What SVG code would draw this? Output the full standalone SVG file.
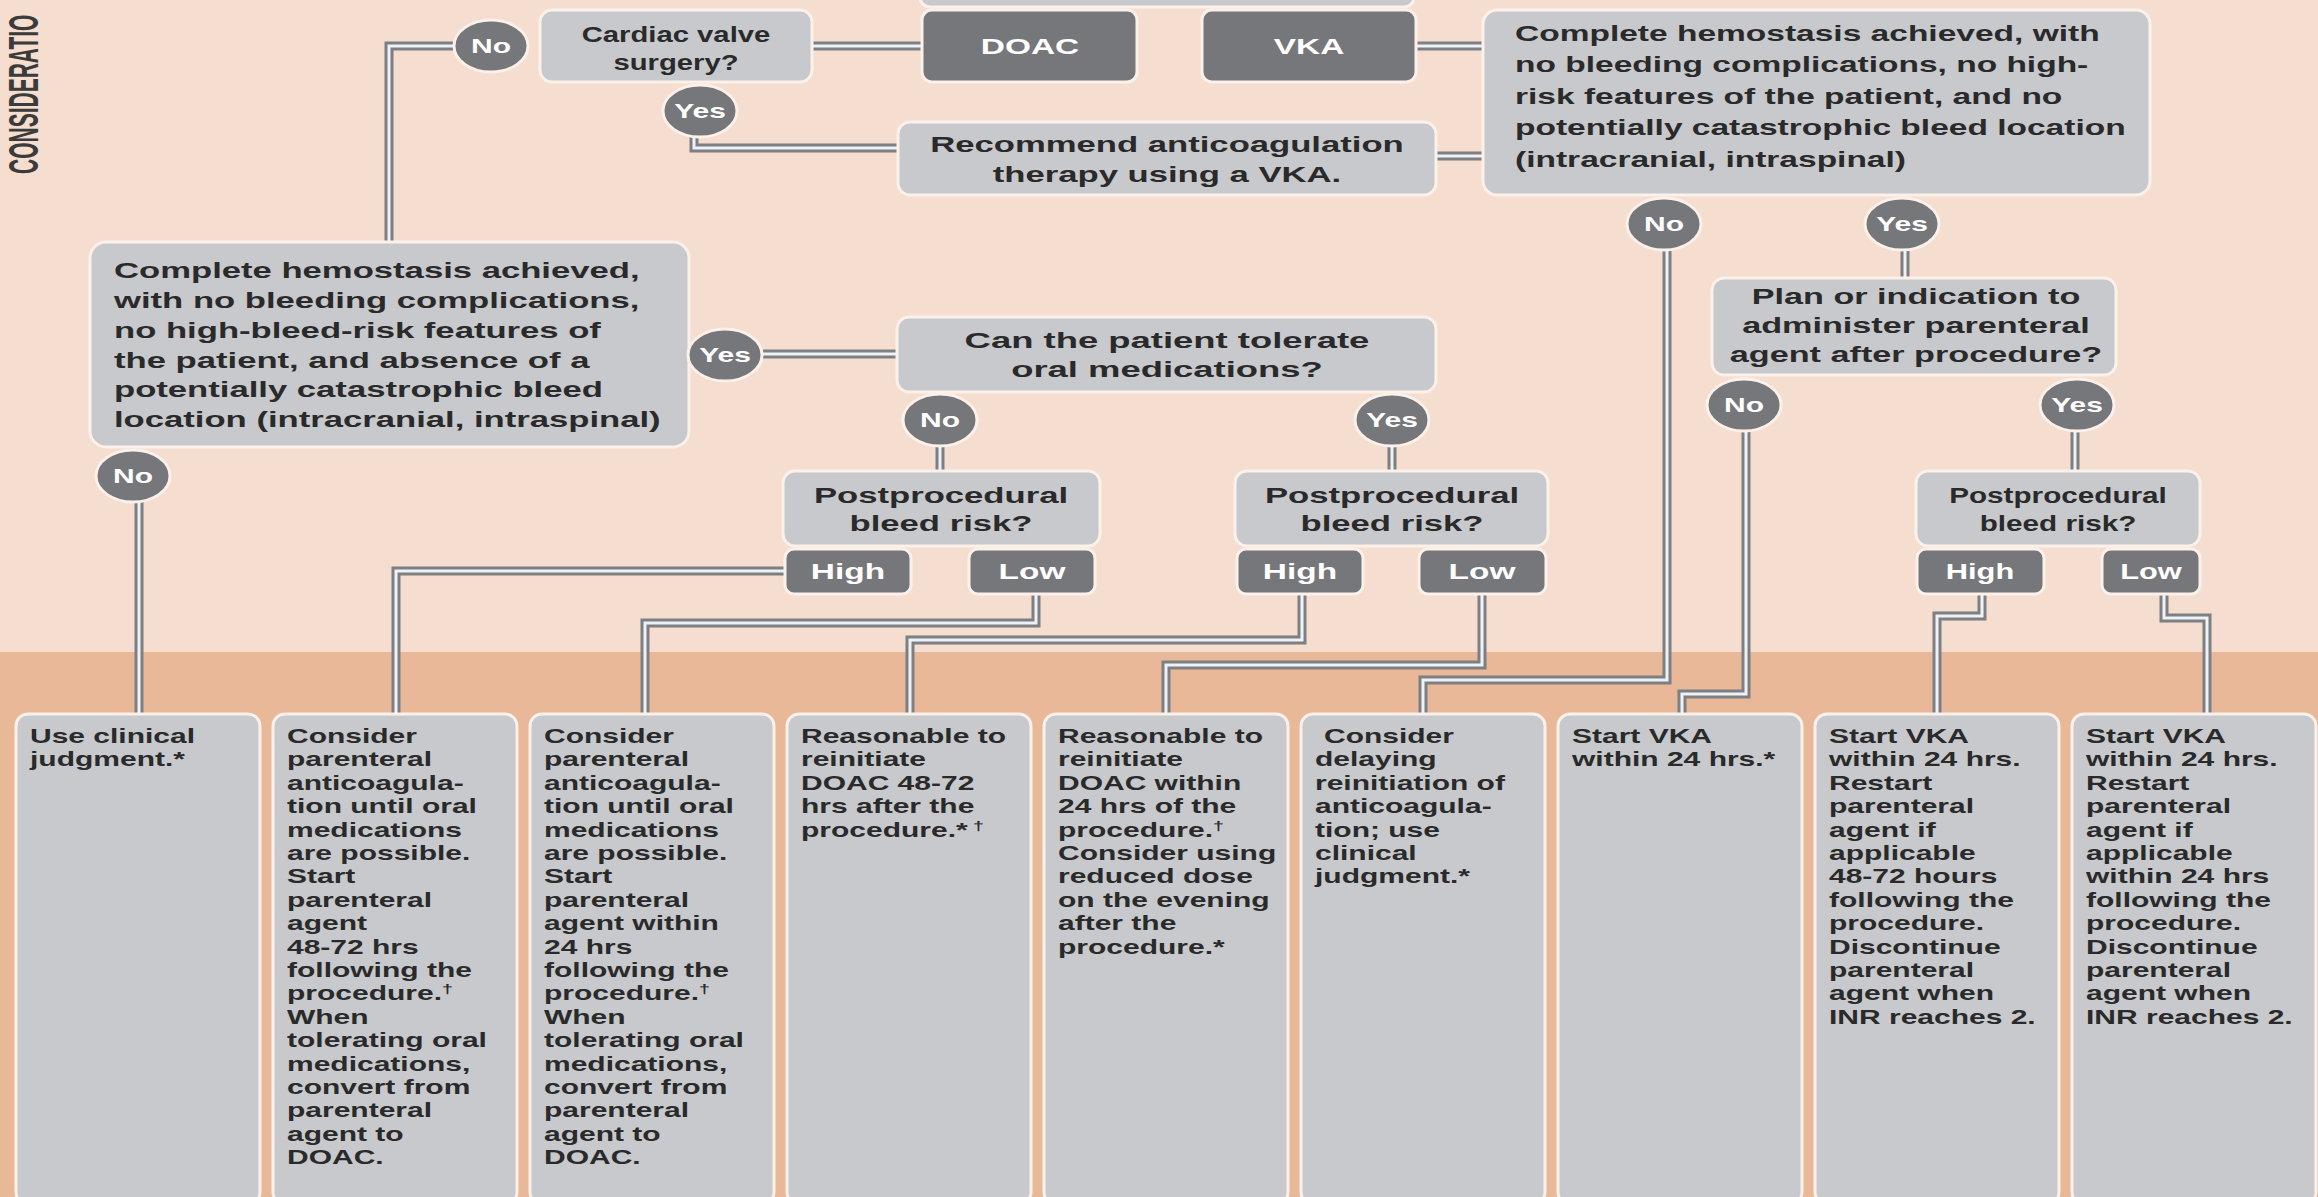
<svg xmlns="http://www.w3.org/2000/svg" xmlns:xlink="http://www.w3.org/1999/xlink" width="2318" height="1197" viewBox="0 0 2318 1197">
<style>
.lb{fill:#C7C9CC;stroke:#FBF1EA;stroke-width:3}
.db{fill:#76777A;stroke:#FBF1EA;stroke-width:3}
.t{font-family:"Liberation Sans",Arial,sans-serif;font-weight:700;fill:#2A2A2A}
.u{font-size:22.5px}
.s{font-size:20px}
.w{fill:#FFFFFF;font-size:22px}
.cw{fill:#FFFFFF;font-size:20px}
.co{fill:none;stroke:#7D7F82;stroke-width:9}
.ci{fill:none;stroke:#EEF2F5;stroke-width:3}
.dg{font-size:13px}
</style>
<defs>
<path id="p1" d="M812,46 H922"/>
<path id="p2" d="M1416,46 H1483"/>
<path id="p3" d="M1436,156 H1483"/>
<path id="p4" d="M694,136 V148 H898"/>
<path id="p5" d="M455,46 H389 V244"/>
<path id="p6" d="M763,354 H897"/>
<path id="p7" d="M940,446 V471"/>
<path id="p8" d="M1392,446 V471"/>
<path id="p9" d="M139,500 V714"/>
<path id="p10" d="M785,571 H396 V714"/>
<path id="p11" d="M1036,593 V623 H645 V714"/>
<path id="p12" d="M1302,593 V640 H910 V714"/>
<path id="p13" d="M1482,593 V665 H1166 V714"/>
<path id="p14" d="M1667,249 V680 H1423 V714"/>
<path id="p15" d="M1746,431 V694 H1682 V714"/>
<path id="p16" d="M1905,249 V278"/>
<path id="p17" d="M2075,431 V471"/>
<path id="p18" d="M1982,593 V616 H1937 V714"/>
<path id="p19" d="M2164,593 V618 H2207 V714"/>
</defs>
<rect x="0" y="0" width="2318" height="1197" fill="#F5DDCF"/>
<rect x="0" y="652" width="2318" height="545" fill="#E9B898"/>
<text class="t" transform="translate(38,174) rotate(-90) scale(1,2.05)" font-size="21" style="fill:#3B3B3B">CONSIDERATIO</text>

<g id="connectors">
<g class="co">
<use xlink:href="#p1"/><use xlink:href="#p2"/><use xlink:href="#p3"/><use xlink:href="#p4"/><use xlink:href="#p5"/><use xlink:href="#p6"/><use xlink:href="#p7"/><use xlink:href="#p8"/><use xlink:href="#p9"/><use xlink:href="#p10"/><use xlink:href="#p11"/><use xlink:href="#p12"/><use xlink:href="#p13"/><use xlink:href="#p14"/><use xlink:href="#p15"/><use xlink:href="#p16"/><use xlink:href="#p17"/><use xlink:href="#p18"/><use xlink:href="#p19"/>
</g>
<g class="ci">
<use xlink:href="#p1"/><use xlink:href="#p2"/><use xlink:href="#p3"/><use xlink:href="#p4"/><use xlink:href="#p5"/><use xlink:href="#p6"/><use xlink:href="#p7"/><use xlink:href="#p8"/><use xlink:href="#p9"/><use xlink:href="#p10"/><use xlink:href="#p11"/><use xlink:href="#p12"/><use xlink:href="#p13"/><use xlink:href="#p14"/><use xlink:href="#p15"/><use xlink:href="#p16"/><use xlink:href="#p17"/><use xlink:href="#p18"/><use xlink:href="#p19"/>
</g>
</g>

<g id="top-box"><rect class="lb" x="920" y="-40" width="494" height="47" rx="10"/></g>

<g id="doac"><rect class="db" x="922" y="10" width="215" height="72" rx="10"/>
<text class="t w" transform="translate(1030,0) scale(1.52,1)" text-anchor="middle" y="54">DOAC</text></g>
<g id="vka"><rect class="db" x="1202" y="10" width="214" height="72" rx="10"/>
<text class="t w" transform="translate(1309,0) scale(1.52,1)" text-anchor="middle" y="54">VKA</text></g>

<g id="cardiac"><rect class="lb" x="540" y="10" width="272" height="72" rx="12"/>
<text class="t u" transform="translate(676,0) scale(1.3,1)" text-anchor="middle"><tspan x="0" y="42">Cardiac valve</tspan><tspan x="0" y="70">surgery?</tspan></text></g>
<g id="cardiac-no"><ellipse class="db" cx="491" cy="46" rx="37" ry="26"/>
<text class="t cw" transform="translate(491,0) scale(1.5,1)" text-anchor="middle" y="53">No</text></g>
<g id="cardiac-yes"><ellipse class="db" cx="700" cy="111" rx="37" ry="26"/>
<text class="t cw" transform="translate(700,0) scale(1.5,1)" text-anchor="middle" y="118">Yes</text></g>

<g id="recommend"><rect class="lb" x="898" y="122" width="538" height="73" rx="12"/>
<text class="t u" transform="translate(1167,0) scale(1.54,1)" text-anchor="middle"><tspan x="0" y="152">Recommend anticoagulation</tspan><tspan x="0" y="182">therapy using a VKA.</tspan></text></g>

<g id="right-hemostasis"><rect class="lb" x="1483" y="10" width="667" height="185" rx="14"/>
<text class="t u" transform="translate(1515,0) scale(1.49,1)"><tspan x="0" y="41">Complete hemostasis achieved, with</tspan><tspan x="0" y="72.5">no bleeding complications, no high-</tspan><tspan x="0" y="104">risk features of the patient, and no</tspan><tspan x="0" y="135.5">potentially catastrophic bleed location</tspan><tspan x="0" y="167">(intracranial, intraspinal)</tspan></text></g>
<g id="right-no"><ellipse class="db" cx="1664" cy="224" rx="37" ry="26"/>
<text class="t cw" transform="translate(1664,0) scale(1.5,1)" text-anchor="middle" y="231">No</text></g>
<g id="right-yes"><ellipse class="db" cx="1902" cy="224" rx="37" ry="26"/>
<text class="t cw" transform="translate(1902,0) scale(1.5,1)" text-anchor="middle" y="231">Yes</text></g>

<g id="plan"><rect class="lb" x="1712" y="278" width="404" height="97" rx="12"/>
<text class="t u" transform="translate(1916,0) scale(1.52,1)" text-anchor="middle"><tspan x="0" y="304">Plan or indication to</tspan><tspan x="0" y="333">administer parenteral</tspan><tspan x="0" y="362">agent after procedure?</tspan></text></g>
<g id="plan-no"><ellipse class="db" cx="1744" cy="405" rx="37" ry="26"/>
<text class="t cw" transform="translate(1744,0) scale(1.5,1)" text-anchor="middle" y="412">No</text></g>
<g id="plan-yes"><ellipse class="db" cx="2077" cy="405" rx="37" ry="26"/>
<text class="t cw" transform="translate(2077,0) scale(1.5,1)" text-anchor="middle" y="412">Yes</text></g>

<g id="left-hemostasis"><rect class="lb" x="90" y="242" width="599" height="205" rx="16"/>
<text class="t u" transform="translate(114,0) scale(1.54,1)"><tspan x="0" y="278">Complete hemostasis achieved,</tspan><tspan x="0" y="308">with no bleeding complications,</tspan><tspan x="0" y="338">no high-bleed-risk features of</tspan><tspan x="0" y="368">the patient, and absence of a</tspan><tspan x="0" y="397">potentially catastrophic bleed</tspan><tspan x="0" y="427">location (intracranial, intraspinal)</tspan></text></g>
<g id="left-yes"><ellipse class="db" cx="725" cy="355" rx="37" ry="26"/>
<text class="t cw" transform="translate(725,0) scale(1.5,1)" text-anchor="middle" y="362">Yes</text></g>
<g id="left-no"><ellipse class="db" cx="133" cy="476" rx="37" ry="26"/>
<text class="t cw" transform="translate(133,0) scale(1.5,1)" text-anchor="middle" y="483">No</text></g>

<g id="tolerate"><rect class="lb" x="897" y="317" width="539" height="75" rx="12"/>
<text class="t u" transform="translate(1167,0) scale(1.62,1)" text-anchor="middle"><tspan x="0" y="348">Can the patient tolerate</tspan><tspan x="0" y="377">oral medications?</tspan></text></g>
<g id="tolerate-no"><ellipse class="db" cx="940" cy="420" rx="37" ry="26"/>
<text class="t cw" transform="translate(940,0) scale(1.5,1)" text-anchor="middle" y="427">No</text></g>
<g id="tolerate-yes"><ellipse class="db" cx="1392" cy="420" rx="37" ry="26"/>
<text class="t cw" transform="translate(1392,0) scale(1.5,1)" text-anchor="middle" y="427">Yes</text></g>

<g id="post1"><rect class="lb" x="783" y="471" width="317" height="75" rx="12"/>
<text class="t u" transform="translate(941,0) scale(1.54,1)" text-anchor="middle"><tspan x="0" y="503">Postprocedural</tspan><tspan x="0" y="531">bleed risk?</tspan></text></g>
<g id="high1"><rect class="db" x="785" y="549" width="126" height="45" rx="9"/>
<text class="t w" transform="translate(848,0) scale(1.52,1)" text-anchor="middle" y="579">High</text></g>
<g id="low1"><rect class="db" x="969" y="549" width="126" height="45" rx="9"/>
<text class="t w" transform="translate(1032,0) scale(1.52,1)" text-anchor="middle" y="579">Low</text></g>

<g id="post2"><rect class="lb" x="1235" y="471" width="313" height="75" rx="12"/>
<text class="t u" transform="translate(1392,0) scale(1.54,1)" text-anchor="middle"><tspan x="0" y="503">Postprocedural</tspan><tspan x="0" y="531">bleed risk?</tspan></text></g>
<g id="high2"><rect class="db" x="1237" y="549" width="126" height="45" rx="9"/>
<text class="t w" transform="translate(1300,0) scale(1.52,1)" text-anchor="middle" y="579">High</text></g>
<g id="low2"><rect class="db" x="1419" y="549" width="127" height="45" rx="9"/>
<text class="t w" transform="translate(1482,0) scale(1.52,1)" text-anchor="middle" y="579">Low</text></g>

<g id="post3"><rect class="lb" x="1916" y="471" width="284" height="75" rx="12"/>
<text class="t u" transform="translate(2058,0) scale(1.32,1)" text-anchor="middle"><tspan x="0" y="503">Postprocedural</tspan><tspan x="0" y="531">bleed risk?</tspan></text></g>
<g id="high3"><rect class="db" x="1917" y="549" width="127" height="45" rx="9"/>
<text class="t w" transform="translate(1980,0) scale(1.4,1)" text-anchor="middle" y="579">High</text></g>
<g id="low3"><rect class="db" x="2102" y="549" width="98" height="45" rx="9"/>
<text class="t w" transform="translate(2151,0) scale(1.4,1)" text-anchor="middle" y="579">Low</text></g>

<g id="out1"><rect class="lb" x="16" y="714" width="244" height="490" rx="12"/>
<text class="t s" transform="translate(30,0) scale(1.5,1)"><tspan x="0" y="743">Use clinical</tspan><tspan x="0" y="766.4">judgment.*</tspan></text></g>

<g id="out2"><rect class="lb" x="273" y="714" width="244" height="490" rx="12"/>
<text class="t s" transform="translate(287,0) scale(1.5,1)"><tspan x="0" y="743">Consider</tspan><tspan x="0" y="766.4">parenteral</tspan><tspan x="0" y="789.8">anticoagula-</tspan><tspan x="0" y="813.2">tion until oral</tspan><tspan x="0" y="836.6">medications</tspan><tspan x="0" y="860">are possible.</tspan><tspan x="0" y="883.4">Start</tspan><tspan x="0" y="906.8">parenteral</tspan><tspan x="0" y="930.2">agent</tspan><tspan x="0" y="953.6">48-72 hrs</tspan><tspan x="0" y="977">following the</tspan><tspan x="0" y="1000.4">procedure.<tspan class="dg" dy="-7">†</tspan></tspan><tspan x="0" y="1023.8">When</tspan><tspan x="0" y="1047.2">tolerating oral</tspan><tspan x="0" y="1070.6">medications,</tspan><tspan x="0" y="1094">convert from</tspan><tspan x="0" y="1117.4">parenteral</tspan><tspan x="0" y="1140.8">agent to</tspan><tspan x="0" y="1164.2">DOAC.</tspan></text></g>

<g id="out3"><rect class="lb" x="530" y="714" width="244" height="490" rx="12"/>
<text class="t s" transform="translate(544,0) scale(1.5,1)"><tspan x="0" y="743">Consider</tspan><tspan x="0" y="766.4">parenteral</tspan><tspan x="0" y="789.8">anticoagula-</tspan><tspan x="0" y="813.2">tion until oral</tspan><tspan x="0" y="836.6">medications</tspan><tspan x="0" y="860">are possible.</tspan><tspan x="0" y="883.4">Start</tspan><tspan x="0" y="906.8">parenteral</tspan><tspan x="0" y="930.2">agent within</tspan><tspan x="0" y="953.6">24 hrs</tspan><tspan x="0" y="977">following the</tspan><tspan x="0" y="1000.4">procedure.<tspan class="dg" dy="-7">†</tspan></tspan><tspan x="0" y="1023.8">When</tspan><tspan x="0" y="1047.2">tolerating oral</tspan><tspan x="0" y="1070.6">medications,</tspan><tspan x="0" y="1094">convert from</tspan><tspan x="0" y="1117.4">parenteral</tspan><tspan x="0" y="1140.8">agent to</tspan><tspan x="0" y="1164.2">DOAC.</tspan></text></g>

<g id="out4"><rect class="lb" x="787" y="714" width="244" height="490" rx="12"/>
<text class="t s" transform="translate(801,0) scale(1.5,1)"><tspan x="0" y="743">Reasonable to</tspan><tspan x="0" y="766.4">reinitiate</tspan><tspan x="0" y="789.8">DOAC 48-72</tspan><tspan x="0" y="813.2">hrs after the</tspan><tspan x="0" y="836.6">procedure.*<tspan class="dg" dy="-7"> †</tspan></tspan></text></g>

<g id="out5"><rect class="lb" x="1044" y="714" width="244" height="490" rx="12"/>
<text class="t s" transform="translate(1058,0) scale(1.5,1)"><tspan x="0" y="743">Reasonable to</tspan><tspan x="0" y="766.4">reinitiate</tspan><tspan x="0" y="789.8">DOAC within</tspan><tspan x="0" y="813.2">24 hrs of the</tspan><tspan x="0" y="836.6">procedure.<tspan class="dg" dy="-7">†</tspan></tspan><tspan x="0" y="860">Consider using</tspan><tspan x="0" y="883.4">reduced dose</tspan><tspan x="0" y="906.8">on the evening</tspan><tspan x="0" y="930.2">after the</tspan><tspan x="0" y="953.6">procedure.*</tspan></text></g>

<g id="out6"><rect class="lb" x="1301" y="714" width="244" height="490" rx="12"/>
<text class="t s" transform="translate(1315,0) scale(1.5,1)"><tspan x="6" y="743">Consider</tspan><tspan x="0" y="766.4">delaying</tspan><tspan x="0" y="789.8">reinitiation of</tspan><tspan x="0" y="813.2">anticoagula-</tspan><tspan x="0" y="836.6">tion; use</tspan><tspan x="0" y="860">clinical</tspan><tspan x="0" y="883.4">judgment.*</tspan></text></g>

<g id="out7"><rect class="lb" x="1558" y="714" width="244" height="490" rx="12"/>
<text class="t s" transform="translate(1572,0) scale(1.5,1)"><tspan x="0" y="743">Start VKA</tspan><tspan x="0" y="766.4">within 24 hrs.*</tspan></text></g>

<g id="out8"><rect class="lb" x="1815" y="714" width="244" height="490" rx="12"/>
<text class="t s" transform="translate(1829,0) scale(1.5,1)"><tspan x="0" y="743">Start VKA</tspan><tspan x="0" y="766.4">within 24 hrs.</tspan><tspan x="0" y="789.8">Restart</tspan><tspan x="0" y="813.2">parenteral</tspan><tspan x="0" y="836.6">agent if</tspan><tspan x="0" y="860">applicable</tspan><tspan x="0" y="883.4">48-72 hours</tspan><tspan x="0" y="906.8">following the</tspan><tspan x="0" y="930.2">procedure.</tspan><tspan x="0" y="953.6">Discontinue</tspan><tspan x="0" y="977">parenteral</tspan><tspan x="0" y="1000.4">agent when</tspan><tspan x="0" y="1023.8">INR reaches 2.</tspan></text></g>

<g id="out9"><rect class="lb" x="2072" y="714" width="244" height="490" rx="12"/>
<text class="t s" transform="translate(2086,0) scale(1.5,1)"><tspan x="0" y="743">Start VKA</tspan><tspan x="0" y="766.4">within 24 hrs.</tspan><tspan x="0" y="789.8">Restart</tspan><tspan x="0" y="813.2">parenteral</tspan><tspan x="0" y="836.6">agent if</tspan><tspan x="0" y="860">applicable</tspan><tspan x="0" y="883.4">within 24 hrs</tspan><tspan x="0" y="906.8">following the</tspan><tspan x="0" y="930.2">procedure.</tspan><tspan x="0" y="953.6">Discontinue</tspan><tspan x="0" y="977">parenteral</tspan><tspan x="0" y="1000.4">agent when</tspan><tspan x="0" y="1023.8">INR reaches 2.</tspan></text></g>
</svg>
